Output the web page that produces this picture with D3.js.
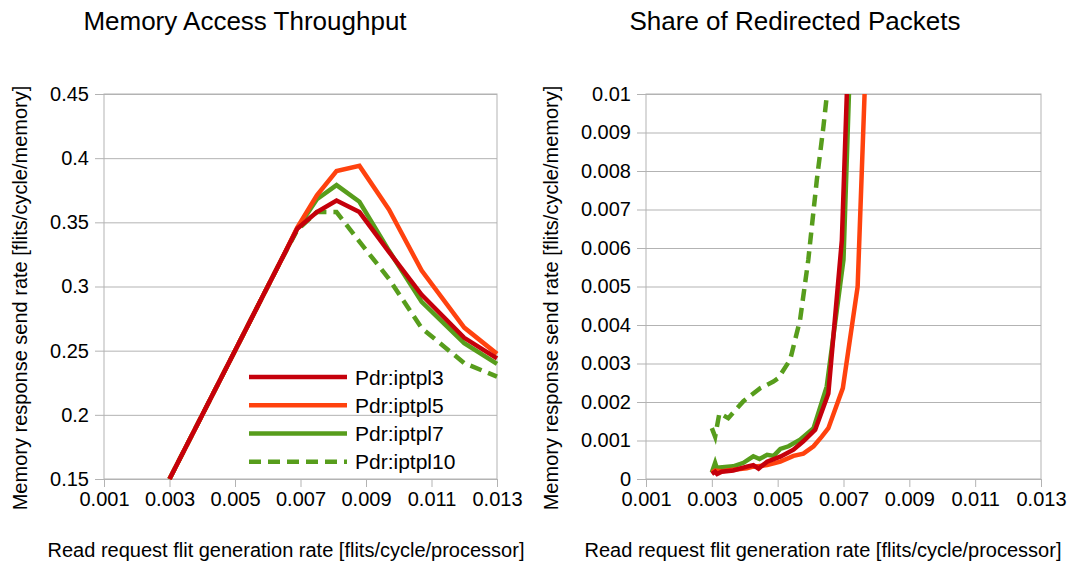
<!DOCTYPE html>
<html>
<head>
<meta charset="utf-8">
<script src="https://cdn.jsdelivr.net/npm/d3@7"></script>
<style>
  body { margin: 0; background: #fff; }
  svg text { font-family: "Liberation Sans", Arial, sans-serif; fill: #000; }
</style>
</head>
<body>
<svg id="chart" width="1073" height="563"></svg>
<script>
// ---- axis ticks ----
const rateTicks = [0.001, 0.003, 0.005, 0.007, 0.009, 0.011, 0.013];
const rateTickLabels = ["0.001", "0.003", "0.005", "0.007", "0.009", "0.011", "0.013"];
const throughputTicks = [0.15, 0.2, 0.25, 0.3, 0.35, 0.4, 0.45];
const throughputTickLabels = ["0.15", "0.2", "0.25", "0.3", "0.35", "0.4", "0.45"];
const shareTicks = [0, 0.001, 0.002, 0.003, 0.004, 0.005, 0.006, 0.007, 0.008, 0.009, 0.01];
const shareTickLabels = ["0", "0.001", "0.002", "0.003", "0.004", "0.005", "0.006", "0.007", "0.008", "0.009", "0.01"];

// ---- series ----
const seriesNames = ["Pdr:iptpl3", "Pdr:iptpl5", "Pdr:iptpl7", "Pdr:iptpl10"];
const seriesColors = ["#c5000b", "#ff420e", "#579d1c", "#579d1c"];
const seriesDashed = [false, false, false, true];

// Memory access throughput vs. read request rate
const loadRate = [0.003, 0.0041, 0.005, 0.0058, 0.0064, 0.0069, 0.0075, 0.0081, 0.0088, 0.0097, 0.0107, 0.012, 0.013];
const throughput3 = [0.15, 0.205, 0.25, 0.29, 0.32, 0.345, 0.358, 0.367, 0.358, 0.327, 0.2935, 0.26, 0.244];
const throughput5 = [0.15, 0.205, 0.25, 0.29, 0.32, 0.346, 0.371, 0.39, 0.394, 0.36, 0.3124, 0.268, 0.2475];
const throughput7 = [0.15, 0.205, 0.25, 0.29, 0.32, 0.345, 0.368, 0.379, 0.366, 0.328, 0.288, 0.2558, 0.2397];
const throughput10 = [0.15, 0.205, 0.25, 0.29, 0.32, 0.344, 0.358, 0.358, 0.335, 0.306, 0.2675, 0.2403, 0.2298];

// Share of redirected packets vs. read request rate
const shareRate3 = [0.003, 0.0031, 0.00316, 0.0033, 0.00365, 0.00406, 0.00426, 0.00442, 0.00468, 0.00508, 0.00548, 0.00578, 0.00614, 0.00654, 0.00695, 0.0073];
const share3 = [0.00013, 0.00019, 0.00013, 0.00019, 0.00022, 0.00032, 0.00036, 0.00027, 0.00045, 0.00058, 0.00076, 0.00098, 0.00128, 0.00222, 0.0062, 0.015];
const shareRate5 = [0.003, 0.0031, 0.0033, 0.00365, 0.00406, 0.00426, 0.00447, 0.00468, 0.00508, 0.00548, 0.00578, 0.00609, 0.00634, 0.00654, 0.00698, 0.00743, 0.0078];
const share5 = [0.00017, 0.00022, 0.0002, 0.00024, 0.00028, 0.00032, 0.00034, 0.00036, 0.00045, 0.0006, 0.00066, 0.00085, 0.0011, 0.00132, 0.00236, 0.005, 0.0138];
const shareRate7 = [0.003, 0.0031, 0.00315, 0.0034, 0.00365, 0.00396, 0.00426, 0.00445, 0.00468, 0.00488, 0.00508, 0.00533, 0.00568, 0.00609, 0.00649, 0.007, 0.0073];
const share7 = [0.00017, 0.00042, 0.00029, 0.00031, 0.00033, 0.00042, 0.00059, 0.00052, 0.00063, 0.0006, 0.00078, 0.00085, 0.00102, 0.00132, 0.0024, 0.0057, 0.0135];
const shareRate10 = [0.003, 0.0031, 0.00323, 0.0035, 0.00396, 0.00447, 0.00487, 0.00502, 0.00538, 0.00568, 0.00593, 0.00619, 0.00639, 0.0066];
const share10 = [0.00132, 0.0011, 0.00171, 0.00158, 0.00202, 0.00236, 0.00253, 0.00262, 0.0031, 0.00413, 0.00569, 0.00777, 0.00915, 0.0108];

const FONT = '"Liberation Sans", Arial, sans-serif';
const GRID = "#b3b3b3";
const svg = d3.select("#chart");

function drawPanel(cfg) {
  const x = d3.scaleLinear().domain([0.001, 0.013]).range([cfg.left, cfg.right]);
  const y = d3.scaleLinear().domain(cfg.yDomain).range([cfg.bottom, cfg.top]);
  const g = svg.append("g");
  const w = cfg.right - cfg.left, h = cfg.bottom - cfg.top;

  // horizontal grid
  g.append("g")
    .attr("transform", `translate(${cfg.left},0)`)
    .call(d3.axisLeft(y).tickValues(cfg.yTicks).tickSize(-w).tickFormat(""))
    .call(s => s.select(".domain").remove())
    .call(s => s.selectAll("line").attr("stroke", GRID));

  // plot frame
  g.append("rect")
    .attr("x", cfg.left).attr("y", cfg.top).attr("width", w).attr("height", h)
    .attr("fill", "none").attr("stroke", GRID);

  // y axis
  g.append("g")
    .attr("transform", `translate(${cfg.left},0)`)
    .call(d3.axisLeft(y).tickValues(cfg.yTicks).tickSize(9).tickPadding(6)
      .tickFormat((d, i) => cfg.yLabels[i]))
    .call(s => s.select(".domain").remove())
    .call(s => s.selectAll("line").attr("stroke", GRID))
    .call(s => s.selectAll("text").attr("font-family", FONT).attr("font-size", 20).attr("fill", "#000"));

  // x axis
  g.append("g")
    .attr("transform", `translate(0,${cfg.bottom})`)
    .call(d3.axisBottom(x).tickValues(rateTicks).tickSize(8).tickPadding(5)
      .tickFormat((d, i) => rateTickLabels[i]))
    .call(s => s.select(".domain").remove())
    .call(s => s.selectAll("line").attr("stroke", GRID))
    .call(s => s.selectAll("text").attr("font-family", FONT).attr("font-size", 20).attr("fill", "#000"));

  // series
  const clipId = "clip-" + cfg.id;
  svg.append("clipPath").attr("id", clipId)
    .append("rect").attr("x", cfg.left - 3).attr("y", cfg.top).attr("width", w + 6).attr("height", h + 3);
  const line = d3.line().x(d => x(d[0])).y(d => y(d[1]));
  const order = [3, 2, 1, 0];
  const lg = g.append("g").attr("clip-path", `url(#${clipId})`);
  order.forEach(i => {
    const xs = cfg.xs[i], ys = cfg.ys[i];
    const pts = xs.map((v, k) => [v, ys[k]]);
    lg.append("path").datum(pts)
      .attr("d", line)
      .attr("fill", "none")
      .attr("stroke", seriesColors[i])
      .attr("stroke-width", 4.5)
      .attr("stroke-linejoin", "miter")
      .attr("stroke-dasharray", seriesDashed[i] ? "12,7" : null);
  });

  // titles
  g.append("text").attr("x", cfg.titleX).attr("y", 30).attr("text-anchor", "middle")
    .attr("font-size", 26).text(cfg.title);
  g.append("text").attr("x", cfg.xTitleX).attr("y", 557).attr("text-anchor", "middle")
    .attr("font-size", 20).text("Read request flit generation rate [flits/cycle/processor]");
  g.append("text").attr("transform", `translate(${cfg.yTitleX},298) rotate(-90)`)
    .attr("text-anchor", "middle").attr("font-size", 20)
    .text("Memory response send rate [flits/cycle/memory]");
  return g;
}

const left = drawPanel({
  id: "throughput", left: 104, right: 497, top: 94, bottom: 479,
  yDomain: [0.15, 0.45], yTicks: throughputTicks, yLabels: throughputTickLabels,
  xs: [loadRate, loadRate, loadRate, loadRate],
  ys: [throughput3, throughput5, throughput7, throughput10],
  title: "Memory Access Throughput", titleX: 245, xTitleX: 286, yTitleX: 27
});

drawPanel({
  id: "share", left: 646, right: 1041, top: 94, bottom: 479,
  yDomain: [0, 0.01], yTicks: shareTicks, yLabels: shareTickLabels,
  xs: [shareRate3, shareRate5, shareRate7, shareRate10],
  ys: [share3, share5, share7, share10],
  title: "Share of Redirected Packets", titleX: 795, xTitleX: 823, yTitleX: 558
});

// legend
const legendRows = [377, 405.3, 433.5, 461.7];
const leg = left.append("g");
seriesNames.forEach((name, i) => {
  leg.append("line")
    .attr("x1", 249).attr("x2", 347).attr("y1", legendRows[i]).attr("y2", legendRows[i])
    .attr("stroke", seriesColors[i]).attr("stroke-width", 4.5)
    .attr("stroke-dasharray", seriesDashed[i] ? "12,7" : null);
  leg.append("text").attr("x", 355).attr("y", legendRows[i] + 7.5)
    .attr("font-size", 21).text(name);
});
</script>
</body>
</html>
